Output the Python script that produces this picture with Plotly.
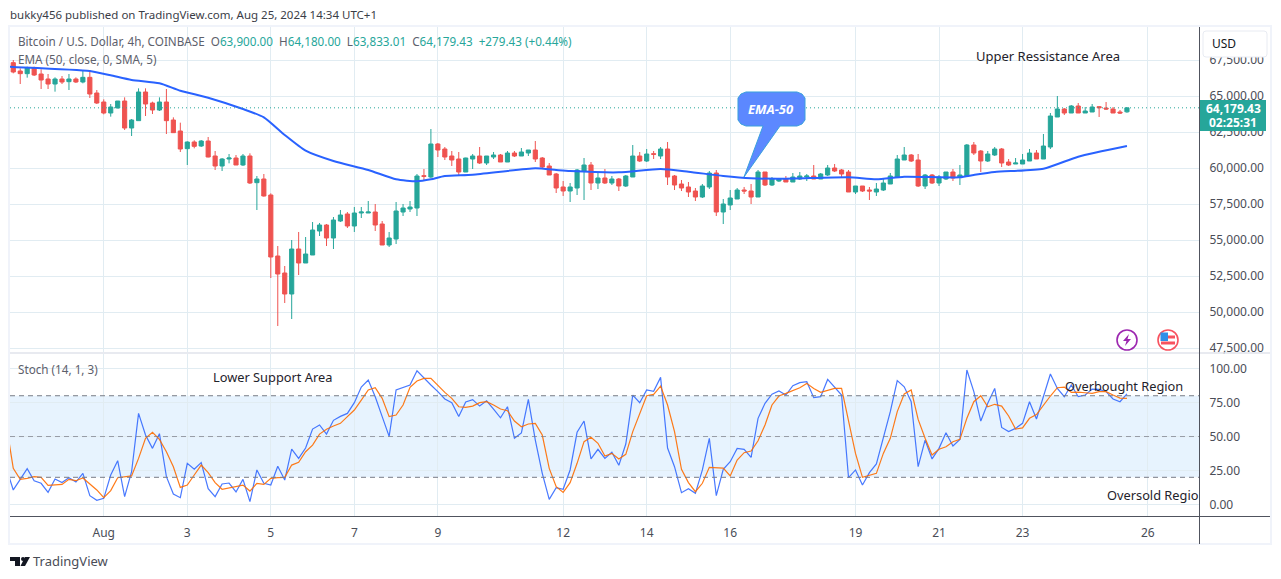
import pandas as pd
import plotly.graph_objects as go

W = 1281
H = 579

# 4h bars, first one sits just off the left edge of the pane (only the stoch lines show it)
bars = pd.date_range("2024-07-29 16:00", periods=162, freq="4h")

opens = [67315, 66736, 66551, 66968, 66528, 66181, 65833, 66181, 65995, 66181, 65972, 66296, 65208, 64583, 63819, 64167,
         64653, 62778, 63287, 65278, 64514, 64028, 64583, 63333, 62569, 61343, 61806, 61528, 61875, 60833, 60139, 60625,
         60694, 60208, 60833, 58981, 59236, 58125, 53889, 52708, 51250, 54375, 53403, 53958, 55625, 56042, 55139, 56319,
         56806, 55972, 56875, 56875, 56944, 56111, 54653, 55069, 56944, 57153, 57222, 59465, 59375, 61667, 61319, 60833,
         60625, 59722, 60625, 60833, 60347, 60764, 60903, 60417, 61042, 60833, 61042, 61250, 60694, 60139, 59583, 58681,
         58403, 58611, 59792, 60208, 58958, 59306, 58958, 59236, 58750, 59375, 60833, 60486, 60993, 60833, 61319, 59444,
         58889, 58681, 58403, 57986, 58681, 59653, 56944, 57431, 57847, 58472, 58403, 57986, 59722, 58819, 59097, 59236,
         59028, 59236, 59375, 59444, 59236, 59514, 60000, 59861, 59722, 58333, 58750, 58472, 58333, 58472, 58889, 59375,
         60556, 60903, 60556, 58750, 59514, 58958, 59236, 59722, 59375, 59444, 61597, 61181, 60486, 60903, 61319, 60417,
         60278, 60278, 60486, 61042, 60625, 61458, 63542, 64097, 63819, 64306, 63819, 63889, 64257, 64167, 64097, 63889,
         63900]
highs = [67500, 66921, 67037, 67037, 66852, 66528, 66296, 66389, 66528, 66296, 66806, 66806, 65417, 64769, 64444, 64653,
         64907, 63403, 65532, 65532, 64606, 64907, 65486, 63519, 63148, 61852, 61921, 61944, 62153, 61181, 60694, 60972,
         60903, 60972, 61019, 59444, 59583, 58241, 54583, 53194, 55000, 55556, 55208, 56250, 56181, 56111, 56597, 57083,
         56944, 57292, 57292, 57708, 57500, 56319, 55556, 57639, 57500, 57708, 59583, 59931, 62708, 61736, 61458, 61181,
         61111, 60715, 60972, 61458, 60833, 61111, 60972, 61181, 61181, 61389, 61250, 61875, 60764, 60347, 59653, 59097,
         58958, 59931, 60694, 60417, 59653, 59931, 59444, 59306, 59514, 61597, 61111, 61319, 61181, 61458, 61806, 59514,
         59167, 59028, 58611, 58889, 59792, 59861, 57847, 58472, 58611, 58681, 58889, 59861, 59722, 59375, 59306, 59444,
         59653, 59722, 59583, 60208, 59653, 60208, 60278, 59931, 59861, 58750, 58750, 58681, 58958, 59306, 59653, 60903,
         61458, 60972, 60972, 59583, 59583, 59514, 59722, 59931, 60208, 61667, 61806, 61250, 61181, 61458, 61389, 60625,
         60694, 60972, 61319, 61250, 62361, 63819, 65000, 64167, 64375, 64514, 64236, 64444, 64306, 64583, 64236, 64028,
         64180]
lows = [66574, 65833, 66273, 66389, 65486, 65486, 65301, 65833, 65417, 65903, 65880, 64861, 64444, 63727, 63565, 64144,
        62639, 62222, 63287, 63611, 63750, 63958, 62361, 62431, 61111, 60208, 61366, 61458, 60741, 59861, 59792, 60324,
        60208, 60139, 58889, 57083, 58009, 52361, 49028, 50625, 49514, 52569, 53403, 53958, 55278, 54583, 54375, 56250,
        55833, 55556, 56528, 56875, 55625, 54653, 54514, 54722, 56667, 56944, 56667, 59167, 59306, 60764, 60556, 60139,
        59514, 59722, 59931, 60278, 60208, 60625, 60417, 60417, 60764, 60833, 60833, 60417, 59931, 59514, 58264, 58056,
        57639, 58125, 57778, 58472, 58542, 58889, 58819, 58403, 58681, 59375, 60417, 60417, 60625, 60625, 58819, 58472,
        58403, 57986, 57708, 57917, 58542, 56667, 56111, 57083, 57847, 58194, 57500, 57986, 58750, 58750, 59028, 59028,
        59028, 59167, 59097, 59236, 59236, 59444, 59722, 59375, 58333, 58194, 58333, 57778, 58056, 58403, 58889, 59375,
        60556, 60417, 58681, 58542, 58889, 58750, 59167, 59097, 58819, 59444, 60903, 59722, 60417, 60833, 60069, 60139,
        60278, 60278, 60486, 60625, 60625, 61319, 63542, 63681, 63819, 63819, 63819, 63889, 63542, 64028, 63819, 63750,
        63833.01]
closes = [66667, 66551, 66968, 66458, 66111, 65833, 66181, 65972, 66181, 65972, 66296, 65139, 64514, 63819, 64236, 64653,
          62778, 63333, 65278, 64444, 64028, 64583, 63287, 62454, 61319, 61806, 61505, 61875, 60764, 60139, 60625, 60694,
          60208, 60833, 58958, 59236, 58056, 53819, 52639, 51250, 54375, 53403, 54028, 55694, 56042, 55139, 56389, 56736,
          55972, 56875, 56944, 56944, 56042, 54653, 55139, 57014, 57222, 57292, 59444, 59420, 61667, 61250, 60764, 60556,
          59722, 60694, 60833, 60347, 60833, 60903, 60417, 61042, 60833, 61111, 61250, 60625, 60069, 59514, 58611, 58403,
          58681, 59861, 60208, 58958, 59306, 58958, 59236, 58750, 59444, 60833, 60486, 60972, 60951, 61319, 59375, 58819,
          58611, 58333, 57986, 58750, 59653, 56944, 57500, 57917, 58472, 58403, 57986, 59722, 58819, 59236, 59236, 59028,
          59375, 59444, 59444, 59236, 59583, 60000, 59792, 59583, 58333, 58750, 58403, 58403, 58542, 58958, 59444, 60625,
          60903, 60486, 58750, 59514, 58958, 59375, 59722, 59306, 59514, 61597, 61042, 60486, 60972, 61319, 60347, 60208,
          60347, 60556, 61042, 60625, 61528, 63611, 64097, 63819, 64306, 63819, 63958, 64236, 64188, 64097, 63819, 63819,
          64179.43]

# EMA(50) read at the bends of the line
ema_bars = [-1, 0, 11, 14, 17, 21, 24, 28, 33, 36, 39, 42, 46, 51, 55, 58, 60, 62, 66, 75, 78, 80, 87, 93, 97, 102, 106,
            111, 120, 124, 128, 136, 138, 141, 148, 153, 160]
ema_vals = [67040, 67014, 66736, 66435, 66111, 65880, 65370, 64884, 64097, 63519, 62292, 61204, 60486, 59861, 59213, 59074,
            59213, 59444, 59535, 59979, 59861, 59792, 59701, 59931, 59743, 59444, 59285, 59257, 59354, 59215, 59396, 59354,
            59514, 59722, 59951, 60785, 61528]

stoch_k = [26.6, 10.7, 18.5, 26.3, 17.5, 15.6, 8.9, 18.7, 16.1, 19.7, 16.5, 22.9, 6.5, 3.1, 4.5, 21.7, 32.2, 5.8, 24.1, 67.0,
           51.1, 41.3, 52.1, 20.5, 7.7, 5.0, 30.3, 25.9, 30.8, 11.6, 5.8, 15.1, 15.8, 9.2, 18.5, 2.1, 25.4, 15.6, 14.3, 28.1,
           18.0, 40.8, 33.9, 41.5, 55.5, 58.5, 51.8, 61.9, 64.8, 67.0, 74.9, 86.4, 91.5, 79.3, 64.6, 50.1, 84.2, 85.9, 87.9,
           98.4, 92.8, 87.9, 83.0, 77.6, 74.9, 64.8, 75.4, 77.1, 72.4, 76.3, 70.2, 63.8, 71.9, 48.7, 52.6, 77.3, 47.4, 22.9,
           3.8, 12.4, 11.2, 25.4, 53.1, 61.4, 33.5, 40.6, 33.9, 38.4, 28.8, 44.5, 80.5, 74.9, 84.2, 83.2, 93.5, 41.5, 27.8,
           8.7, 11.6, 8.2, 25.4, 48.7, 6.5, 25.9, 31.5, 41.3, 40.6, 34.7, 63.4, 74.4, 81.2, 83.5, 80.5, 87.4, 89.6, 90.3, 78.6,
           79.3, 92.0, 85.9, 80.5, 19.7, 25.4, 14.3, 23.4, 29.8, 48.7, 68.3, 91.1, 86.6, 75.6, 27.8, 47.4, 33.5, 41.3, 52.8,
           43.0, 47.9, 98.9, 83.0, 61.4, 74.4, 85.4, 56.7, 53.6, 56.0, 59.7, 75.6, 62.9, 79.3, 96.0, 85.4, 79.3, 87.9, 79.3,
           80.5, 84.9, 84.7, 83.0, 77.6, 75.6, 81.3]
stoch_d = [58.7, 26.6, 18.5, 19.2, 20.5, 20.0, 14.1, 14.3, 14.8, 18.5, 17.5, 19.5, 14.8, 10.7, 5.0, 10.2, 19.7, 20.2, 21.0, 33.9,
           48.7, 53.1, 47.9, 38.8, 27.8, 12.6, 14.3, 21.7, 29.0, 23.4, 16.1, 11.2, 12.4, 13.6, 14.3, 9.9, 15.6, 14.8, 19.2, 19.7,
           20.0, 29.0, 31.0, 38.8, 43.7, 51.8, 55.3, 57.7, 59.7, 64.6, 69.5, 76.8, 84.2, 85.9, 78.1, 64.6, 65.8, 73.2, 86.2,
           90.8, 92.8, 92.8, 87.4, 82.5, 78.1, 71.9, 71.4, 72.4, 74.9, 75.6, 73.2, 70.2, 69.0, 61.4, 57.2, 59.2, 59.7, 51.1,
           26.6, 13.1, 8.9, 16.1, 30.3, 46.2, 49.4, 45.0, 35.7, 37.6, 33.5, 36.9, 53.6, 67.0, 80.0, 81.0, 87.1, 73.2, 53.6,
           25.9, 16.1, 9.4, 15.6, 27.3, 27.1, 26.8, 21.0, 32.7, 38.1, 39.3, 46.9, 58.5, 73.2, 79.8, 81.7, 83.7, 85.9, 89.1,
           85.4, 82.5, 83.7, 85.4, 85.4, 62.1, 37.6, 20.0, 21.7, 22.9, 37.6, 48.7, 68.3, 81.3, 84.2, 62.6, 48.7, 36.4, 40.6,
           42.5, 46.2, 47.9, 63.4, 75.6, 80.0, 71.9, 73.7, 72.4, 65.1, 55.5, 56.3, 63.4, 66.1, 73.2, 79.8, 85.9, 86.4, 82.5,
           82.7, 82.2, 81.7, 83.0, 83.0, 80.5, 78.3, 78.1]

date_ticks = ["2024-08-01", "2024-08-03", "2024-08-05", "2024-08-07", "2024-08-09", "2024-08-12", "2024-08-14",
              "2024-08-16", "2024-08-19", "2024-08-21", "2024-08-23", "2024-08-26"]
date_labels = ["Aug", "3", "5", "7", "9", "12", "14", "16", "19", "21", "23", "26"]
price_ticks = [47500, 50000, 52500, 55000, 57500, 60000, 62500, 65000, 67500]
stoch_ticks = [0, 25, 50, 75, 100]

last_close = closes[-1]

UP = "#26a69a"
DOWN = "#ef5350"
GRID = "#e1ecf2"
AXIS = "#50535e"
FRAME = "#f0f3fa"
TEXT = "#4a4d57"
FONT = "Noto Sans"


def px(x):
    return x / W


def py(y):
    return 1 - y / H


def label(x, y, text, size=12, color=TEXT, xanchor="left"):
    # annotations carry a little padding, pull left-aligned ones back
    if xanchor == "left":
        x -= 2
    fig.add_annotation(xref="paper", yref="paper", x=px(x), y=py(y), text=text, showarrow=False, xanchor=xanchor,
                       yanchor="middle", font=dict(family=FONT, size=size, color=color))


def paper_shape(**kw):
    fig.add_shape(xref="paper", yref="paper", **kw)


def rect(x0, y0, x1, y1, **kw):
    paper_shape(type="rect", x0=px(x0), y0=py(y0), x1=px(x1), y1=py(y1), **kw)


def circle(x, y, r, **kw):
    paper_shape(type="circle", x0=px(x - r), y0=py(y - r), x1=px(x + r), y1=py(y + r), **kw)


def poly(points, **kw):
    d = "M" + " L".join(f"{px(a):.5f},{py(b):.5f}" for a, b in points) + " Z"
    paper_shape(type="path", path=d, **kw)


fig = go.Figure()

fig.add_trace(go.Candlestick(x=bars[1:], open=opens, high=highs, low=lows, close=closes, xaxis="x", yaxis="y",
                             increasing=dict(line=dict(color=UP, width=1), fillcolor=UP),
                             decreasing=dict(line=dict(color=DOWN, width=1), fillcolor=DOWN),
                             whiskerwidth=0, showlegend=False))
fig.add_trace(go.Scatter(x=[bars[i + 1] for i in ema_bars], y=ema_vals, mode="lines", xaxis="x", yaxis="y",
                         line=dict(color="#2962ff", width=2, shape="spline", smoothing=0.6), showlegend=False))
fig.add_trace(go.Scatter(x=bars, y=stoch_k, mode="lines", xaxis="x2", yaxis="y2",
                         line=dict(color="#2962ff", width=1.2), opacity=0.85, showlegend=False))
fig.add_trace(go.Scatter(x=bars, y=stoch_d, mode="lines", xaxis="x2", yaxis="y2",
                         line=dict(color="#ff6d00", width=1.2), opacity=0.9, showlegend=False))


def bar_time(i):
    return bars[1] + pd.Timedelta(hours=4) * i


x_range = [bar_time(-0.47), bar_time(170.35)]

fig.update_layout(
    width=W, height=H, margin=dict(l=0, r=0, t=0, b=0, pad=0, autoexpand=False), paper_bgcolor="white", plot_bgcolor="white",
    font=dict(family=FONT, size=12, color=TEXT), showlegend=False, boxgap=0.15, hovermode=False,
    xaxis=dict(domain=[px(10), px(1199)], range=x_range, tickvals=date_ticks, showticklabels=False, showgrid=True,
               gridcolor=GRID, gridwidth=1, zeroline=False, rangeslider=dict(visible=False), ticks="", anchor="y"),
    yaxis=dict(domain=[py(352), py(27)], range=[47222, 69792], tickvals=price_ticks, tickformat=",.2f", side="right",
               showgrid=True, gridcolor=GRID, gridwidth=1, zeroline=False, ticks="outside", ticklen=7,
               tickcolor="rgba(0,0,0,0)", anchor="x", tickfont=dict(size=12, color=TEXT)),
    xaxis2=dict(domain=[px(10), px(1199)], range=x_range, tickvals=date_ticks, ticktext=date_labels, showgrid=True,
                gridcolor=GRID, gridwidth=1, zeroline=False, ticks="outside", ticklen=6, tickcolor="rgba(0,0,0,0)",
                anchor="y2", tickfont=dict(size=12, color=TEXT), tickangle=0),
    yaxis2=dict(domain=[py(516), py(354)], range=[-8.46, 110.7], tickvals=stoch_ticks, tickformat=".2f", side="right",
                showgrid=True, gridcolor=GRID, gridwidth=1, zeroline=False, ticks="outside", ticklen=7,
                tickcolor="rgba(0,0,0,0)", anchor="x2", tickfont=dict(size=12, color=TEXT)),
)

# stoch band and its dashed levels
fig.add_shape(type="rect", xref="x2", yref="y2", x0=x_range[0], x1=x_range[1], y0=20, y1=80, layer="below",
              fillcolor="rgba(33,150,243,0.11)", line_width=0)
fig.add_shape(type="line", xref="x2", yref="y2", x0=x_range[0], x1=x_range[1], y0=80, y1=80,
              line=dict(color="#787b86", width=1, dash="5px,4px"))
fig.add_shape(type="line", xref="x2", yref="y2", x0=x_range[0], x1=x_range[1], y0=50, y1=50,
              line=dict(color="rgba(120,123,134,0.7)", width=1, dash="5px,4px"))
fig.add_shape(type="line", xref="x2", yref="y2", x0=x_range[0], x1=x_range[1], y0=20, y1=20,
              line=dict(color="#787b86", width=1, dash="5px,4px"))

# last price line
fig.add_shape(type="line", xref="x", yref="y", x0=x_range[0], x1=x_range[1], y0=last_close, y1=last_close,
              line=dict(color=UP, width=1, dash="1px,3px"))

# frame, pane divider, axis lines
rect(9, 26, 1271, 544, line=dict(color=FRAME, width=2), fillcolor="rgba(0,0,0,0)")
paper_shape(type="line", x0=px(10), x1=px(1270), y0=py(353), y1=py(353), line=dict(color="#e0e3eb", width=1.5))
paper_shape(type="line", x0=px(10), x1=px(1270), y0=py(516.5), y1=py(516.5), line=dict(color=AXIS, width=1))
paper_shape(type="line", x0=px(1199.5), x1=px(1199.5), y0=py(27), y1=py(544), line=dict(color=AXIS, width=1))

# USD button, price tag
paper_shape(type="path", line=dict(color="#e8ebf2", width=1), fillcolor="white",
            path=f"M{px(1206)},{py(31)} L{px(1264)},{py(31)} Q{px(1267)},{py(31)} {px(1267)},{py(34)} L{px(1267)},{py(54)} "
                 f"Q{px(1267)},{py(57)} {px(1264)},{py(57)} L{px(1206)},{py(57)} Q{px(1203)},{py(57)} {px(1203)},{py(54)} "
                 f"L{px(1203)},{py(34)} Q{px(1203)},{py(31)} {px(1206)},{py(31)} Z")
rect(1200, 100, 1266, 131, fillcolor=UP, line_width=0)

# callout
poly([(744, 177), (763, 126), (746, 126), (741, 124), (738, 120), (738, 98), (741, 94), (746, 92), (797, 92), (802, 94),
      (805, 98), (805, 120), (802, 124), (797, 126), (780, 126)],
     fillcolor="#5c88ff", line=dict(color="#3aa0dc", width=1))

# the two little chart badges
circle(1127, 340, 10, fillcolor="white", line=dict(color="#9c27b0", width=1.6))
poly([(1129, 334), (1123, 341), (1126.5, 341), (1125, 346), (1131, 339), (1127.5, 339)], fillcolor="#9c27b0", line_width=0)
circle(1168, 340, 10, fillcolor="white", line=dict(color="#f7525f", width=1.6))
rect(1161, 335.5, 1175, 338.5, fillcolor="#f7525f", line_width=0)
rect(1161, 341.5, 1175, 344.5, fillcolor="#f7525f", line_width=0)
rect(1160.5, 332.5, 1168, 341, fillcolor="#2f8fe8", line_width=0)

# TradingView mark
poly([(10, 557), (20, 557), (20, 566), (15, 566), (15, 561), (10, 561)], fillcolor="#131722", line_width=0)
circle(23, 559, 2, fillcolor="#131722", line_width=0)
poly([(25, 557), (30, 557), (25, 566), (20.5, 566)], fillcolor="#131722", line_width=0)

teal = 'style="color:#26a69a"'
label(10, 15, "bukky456 published on TradingView.com, Aug 25, 2024 14:34 UTC+1", size=11.5, color="#3a3d47")
label(18, 41, f"Bitcoin / U.S. Dollar, 4h, COINBASE  O<span {teal}>63,900.00</span>  H<span {teal}>64,180.00</span>  "
              f"L<span {teal}>63,833.01</span>  C<span {teal}>64,179.43</span>  <span {teal}>+279.43 (+0.44%)</span>",
      size=11.7, color="#5d606b")
label(18, 59, "EMA (50, close, 0, SMA, 5)", size=11.7, color="#5d606b")
label(18, 369, "Stoch (14, 1, 3)", size=11.7, color="#5d606b")
label(1048, 56, "Upper Ressistance Area", size=13, color="#1f222b", xanchor="center")
label(272, 377, "Lower Support Area", size=12.8, color="#1f222b", xanchor="center")
label(1124, 386, "Overbought Region", size=12.8, color="#1f222b", xanchor="center")
label(1107, 495, "Oversold Regio", size=12.8, color="#1f222b")
label(771, 109, "<b><i>EMA-50</i></b>", size=13, color="white", xanchor="center")
label(1212, 44, "USD", size=12, color="#131722")
label(1233, 108, "<b>64,179.43</b>", size=12, color="white", xanchor="center")
label(1233, 122, "<b>02:25:31</b>", size=12, color="white", xanchor="center")
label(33, 561, "TradingView", size=13, color="#4a4d57")

# page margin off so the figure fills the window
fig.write_html("out.html", config=dict(displayModeBar=False), post_script="document.body.style.margin='0';")
